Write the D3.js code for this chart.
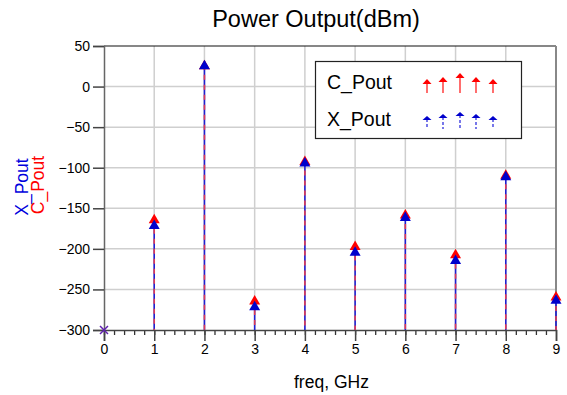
<!DOCTYPE html>
<html>
<head>
<meta charset="utf-8">
<script src="https://d3js.org/d3.v7.min.js"></script>
<style>
body { margin: 0; background: #fff; }
text { font-family: "Liberation Sans", Arial, sans-serif; }
</style>
</head>
<body>
<svg id="chart" width="567" height="395"></svg>
<script>
// values
var freq = [0, 1, 2, 3, 4, 5, 6, 7, 8, 9];
var cPout = [-300, -163, 27, -263, -91, -196, -157, -206, -108, -258];
var xPout = [-300, -170, 27, -270, -93, -203, -160, -213, -110, -262];
var yTicks = [50, 0, -50, -100, -150, -200, -250, -300];
var legendC = [3, 5, 9, 5, 3];   // legend arrow heights
var legendX = [3, 5, 7, 5, 3];

var svg = d3.select("#chart");
var pLeft = 104, pRight = 556, pTop = 46, pBottom = 330;
var x = d3.scaleLinear().domain([0, 9]).range([pLeft, pRight]);
var y = d3.scaleLinear().domain([-300, 50]).range([pBottom, pTop]);

// title
svg.append("text").attr("x", 316).attr("y", 27).attr("text-anchor", "middle")
    .style("font-size", "23.5px").text("Power Output(dBm)");

// grid
svg.append("g").selectAll("line").data(freq.slice(1, -1)).enter().append("line")
    .attr("x1", function(d) { return x(d); }).attr("x2", function(d) { return x(d); })
    .attr("y1", pTop).attr("y2", pBottom)
    .attr("stroke", "#cfcfcf").attr("stroke-width", 1.5);
svg.append("g").selectAll("line").data(yTicks.slice(1, -1)).enter().append("line")
    .attr("x1", pLeft).attr("x2", pRight)
    .attr("y1", function(d) { return y(d); }).attr("y2", function(d) { return y(d); })
    .attr("stroke", "#cfcfcf").attr("stroke-width", 1.5);

// frame: black top, gray right
svg.append("line").attr("x1", pLeft).attr("x2", pRight).attr("y1", pTop).attr("y2", pTop)
    .attr("stroke", "#111").attr("stroke-width", 1.2);
svg.append("line").attr("x1", pRight).attr("x2", pRight).attr("y1", pTop).attr("y2", pBottom)
    .attr("stroke", "#888").attr("stroke-width", 2);

// y axis
var yAxis = d3.axisLeft(y).tickValues(yTicks).tickSize(11).tickPadding(3);
var gy = svg.append("g").attr("transform", "translate(" + pLeft + ",0)").call(yAxis);
gy.select(".domain").attr("stroke", "#666").attr("stroke-width", 1.5);
gy.selectAll(".tick line").attr("stroke", "#444").attr("stroke-width", 1.5);
gy.selectAll(".tick text").style("font-size", "14px").style("font-family", "Liberation Sans, Arial").attr("fill", "#000");

// x axis with minor ticks
var xAxisMinor = d3.axisBottom(x).tickValues(d3.range(0, 45).map(function(i) { return i / 5; }))
    .tickSize(5).tickFormat("");
var gxm = svg.append("g").attr("transform", "translate(0," + pBottom + ")").call(xAxisMinor);
gxm.select(".domain").remove();
gxm.selectAll(".tick line").attr("stroke", "#333").attr("stroke-width", 1.3);
var xAxis = d3.axisBottom(x).tickValues(freq).tickSize(11).tickPadding(3).tickFormat(d3.format("d"));
var gx = svg.append("g").attr("transform", "translate(0," + pBottom + ")").call(xAxis);
gx.select(".domain").attr("stroke", "#444").attr("stroke-width", 1.5);
gx.selectAll(".tick line").attr("stroke", "#444").attr("stroke-width", 1.5);
gx.selectAll(".tick text").style("font-size", "14px").style("font-family", "Liberation Sans, Arial").attr("fill", "#000");

// axis labels
svg.append("text").attr("x", 294).attr("y", 388).style("font-size", "17.5px").text("freq, GHz");
svg.append("text").attr("transform", "translate(28,187) rotate(-90)").attr("text-anchor", "middle")
    .style("font-size", "17.5px").attr("fill", "#0000dd").text("X_Pout");
svg.append("text").attr("transform", "translate(44,185) rotate(-90)").attr("text-anchor", "middle")
    .style("font-size", "17.5px").attr("fill", "#ff0000").text("C_Pout");

// stems
var pts = freq.map(function(f, i) { return {f: f, c: cPout[i], x: xPout[i]}; }).filter(function(d) { return d.f > 0; });
var stems = svg.append("g");
stems.selectAll(".sb").data(pts).enter().append("line")
    .attr("x1", function(d) { return x(d.f); }).attr("x2", function(d) { return x(d.f); })
    .attr("y1", function(d) { return y(d.x); }).attr("y2", pBottom)
    .attr("stroke", "#2020d0").attr("stroke-width", 1.6);
stems.selectAll(".sr").data(pts).enter().append("line")
    .attr("x1", function(d) { return x(d.f); }).attr("x2", function(d) { return x(d.f); })
    .attr("y1", function(d) { return y(d.c); }).attr("y2", pBottom)
    .attr("stroke", "#ff4040").attr("stroke-width", 1.6).attr("stroke-dasharray", "5,5")
    .attr("stroke-opacity", 0.85);

// triangle markers
function tri(cx, cy) {
    return "M" + (cx - 5.5) + "," + (cy + 4.5) + "L" + cx + "," + (cy - 5) + "L" + (cx + 5.5) + "," + (cy + 4.5) + "Z";
}
svg.append("g").selectAll("path").data(pts).enter().append("path")
    .attr("d", function(d) { return tri(x(d.f), y(d.c)); }).attr("fill", "#ff0000");
svg.append("g").selectAll("path").data(pts).enter().append("path")
    .attr("d", function(d) { return tri(x(d.f), y(d.x)); }).attr("fill", "#0000cc");

// freq 0 marker (cross)
var z = {f: freq[0], v: xPout[0]};
svg.append("path")
    .attr("d", "M" + (x(z.f) - 4) + "," + (y(z.v) - 4) + "L" + (x(z.f) + 4) + "," + (y(z.v) + 4) +
        "M" + (x(z.f) + 4) + "," + (y(z.v) - 4) + "L" + (x(z.f) - 4) + "," + (y(z.v) + 4))
    .attr("stroke", "#6020b0").attr("stroke-width", 1.5);

// legend
var lg = svg.append("g");
lg.append("rect").attr("x", 315.5).attr("y", 61.5).attr("width", 206).attr("height", 77)
    .attr("fill", "#fff").attr("stroke", "#222").attr("stroke-width", 1.2);
lg.append("text").attr("x", 327).attr("y", 89).style("font-size", "19.5px").text("C_Pout");
lg.append("text").attr("x", 327).attr("y", 126).style("font-size", "19.5px").text("X_Pout");
var ax = [427, 443, 460, 476, 493];
legendC.forEach(function(h, i) {
    var tip = 82 - h;
    lg.append("line").attr("x1", ax[i]).attr("x2", ax[i]).attr("y1", tip + 3).attr("y2", 93)
        .attr("stroke", "#ff2020").attr("stroke-width", 1.3);
    lg.append("path").attr("d", "M" + (ax[i] - 4.5) + "," + (tip + 5) + "L" + ax[i] + "," + tip + "L" + (ax[i] + 4.5) + "," + (tip + 5) + "Z")
        .attr("fill", "#ff0000");
});
legendX.forEach(function(h, i) {
    var tip = 119 - h;
    lg.append("line").attr("x1", ax[i]).attr("x2", ax[i]).attr("y1", tip + 3).attr("y2", 129)
        .attr("stroke", "#3030dd").attr("stroke-width", 1.3).attr("stroke-dasharray", "3,2");
    lg.append("path").attr("d", "M" + (ax[i] - 4.5) + "," + (tip + 4) + "L" + ax[i] + "," + tip + "L" + (ax[i] + 4.5) + "," + (tip + 4) + "Z")
        .attr("fill", "#0000cc");
});
</script>
</body>
</html>
